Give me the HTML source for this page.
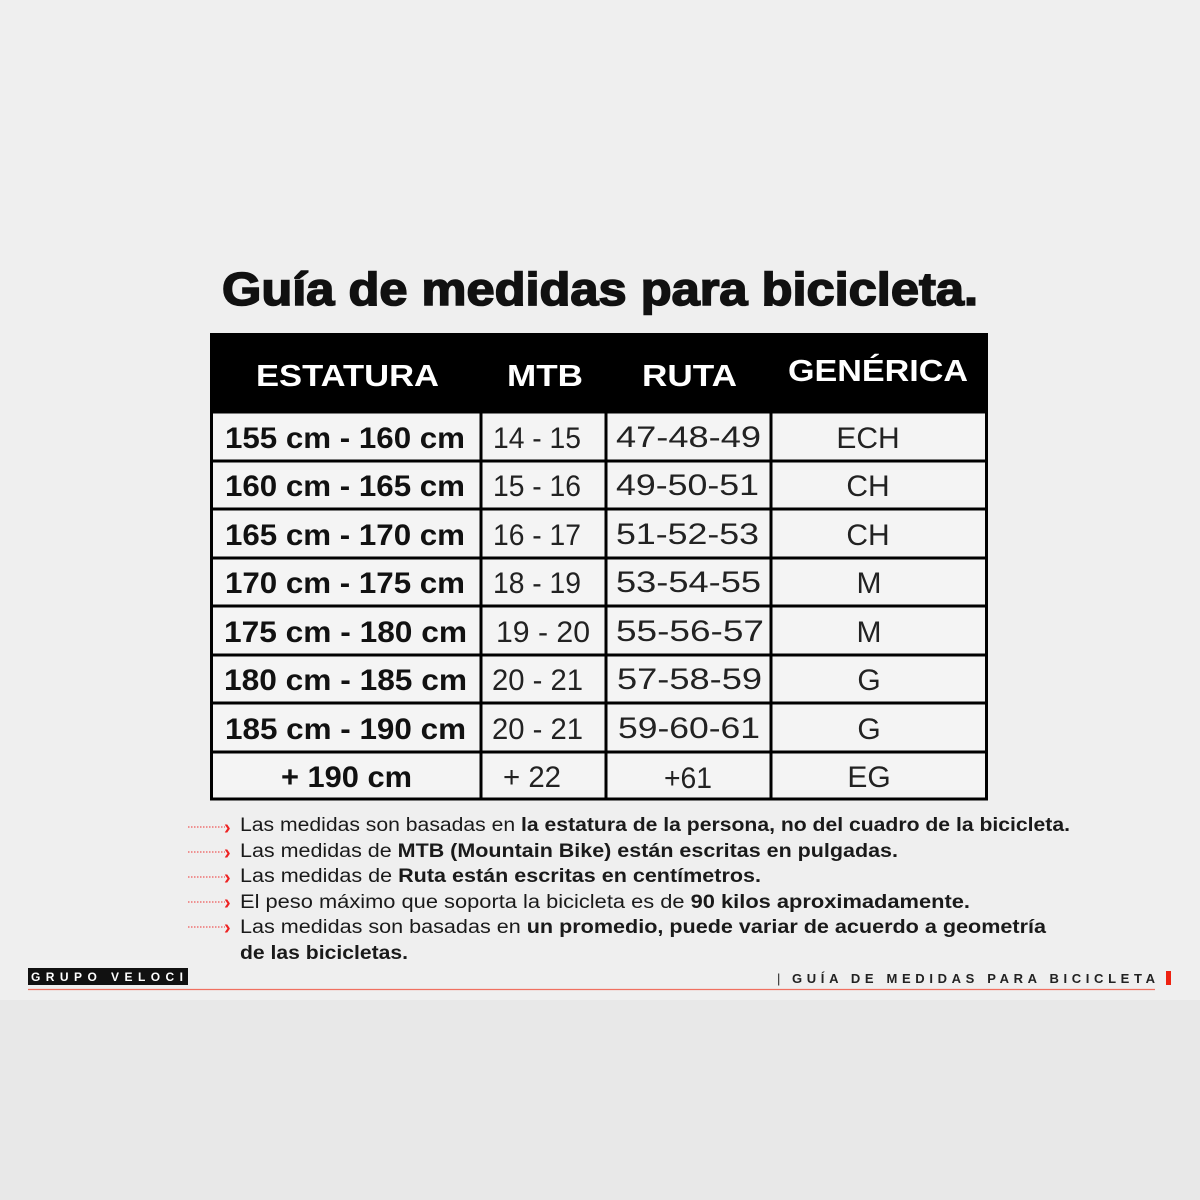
<!DOCTYPE html>
<html><head><meta charset="utf-8"><style>
html,body{margin:0;padding:0;background:#efefef;}
svg{display:block;font-family:"Liberation Sans",sans-serif;}
</style></head><body>
<svg width="1200" height="1200" viewBox="0 0 1200 1200">
<rect x="0" y="0" width="1200" height="1000" fill="#efefef"/>
<rect x="0" y="1000" width="1200" height="200" fill="#e8e8e8"/>
<text x="222" y="305" font-size="46" font-weight="bold" fill="#111" stroke="#111" stroke-width="1.6" textLength="756" lengthAdjust="spacingAndGlyphs">Guía de medidas para bicicleta.</text>
<!-- table -->
<rect x="210" y="333" width="778" height="79" fill="#000"/>
<rect x="211.5" y="412" width="775" height="387" fill="#f4f4f4" stroke="#000" stroke-width="3"/>
<g stroke="#000" stroke-width="3">
<line x1="481" y1="333" x2="481" y2="800"/>
<line x1="606" y1="412" x2="606" y2="800"/>
<line x1="771" y1="412" x2="771" y2="800"/>
<line x1="210" y1="461" x2="988" y2="461"/>
<line x1="210" y1="509" x2="988" y2="509"/>
<line x1="210" y1="558" x2="988" y2="558"/>
<line x1="210" y1="606" x2="988" y2="606"/>
<line x1="210" y1="655" x2="988" y2="655"/>
<line x1="210" y1="703" x2="988" y2="703"/>
<line x1="210" y1="752" x2="988" y2="752"/>
</g>
<g fill="#fff" font-size="31" font-weight="bold">
<text x="256" y="386" textLength="183" lengthAdjust="spacingAndGlyphs">ESTATURA</text>
<text x="507" y="386" textLength="76" lengthAdjust="spacingAndGlyphs">MTB</text>
<text x="642" y="386" textLength="95" lengthAdjust="spacingAndGlyphs">RUTA</text>
<text x="788" y="381" textLength="180" lengthAdjust="spacingAndGlyphs">GENÉRICA</text>
</g>
<g fill="#111" font-size="30" font-weight="bold">
<text x="225" y="448" textLength="240" lengthAdjust="spacingAndGlyphs">155 cm - 160 cm</text>
<text x="225" y="496" textLength="240" lengthAdjust="spacingAndGlyphs">160 cm - 165 cm</text>
<text x="225" y="545" textLength="240" lengthAdjust="spacingAndGlyphs">165 cm - 170 cm</text>
<text x="225" y="593" textLength="240" lengthAdjust="spacingAndGlyphs">170 cm - 175 cm</text>
<text x="224" y="642" textLength="243" lengthAdjust="spacingAndGlyphs">175 cm - 180 cm</text>
<text x="224" y="690" textLength="243" lengthAdjust="spacingAndGlyphs">180 cm - 185 cm</text>
<text x="225" y="739" textLength="241" lengthAdjust="spacingAndGlyphs">185 cm - 190 cm</text>
<text x="281" y="787" textLength="131" lengthAdjust="spacingAndGlyphs">+ 190 cm</text>
</g>
<g fill="#222" font-size="30">
<text x="493" y="448" textLength="88" lengthAdjust="spacingAndGlyphs">14 - 15</text>
<text x="493" y="496" textLength="88" lengthAdjust="spacingAndGlyphs">15 - 16</text>
<text x="493" y="545" textLength="88" lengthAdjust="spacingAndGlyphs">16 - 17</text>
<text x="493" y="593" textLength="88" lengthAdjust="spacingAndGlyphs">18 - 19</text>
<text x="496" y="642" textLength="94" lengthAdjust="spacingAndGlyphs">19 - 20</text>
<text x="492" y="690" textLength="91" lengthAdjust="spacingAndGlyphs">20 - 21</text>
<text x="492" y="739" textLength="91" lengthAdjust="spacingAndGlyphs">20 - 21</text>
<text x="503" y="787" textLength="58" lengthAdjust="spacingAndGlyphs">+ 22</text>
<text x="616" y="447" textLength="145" lengthAdjust="spacingAndGlyphs">47-48-49</text>
<text x="616" y="495" textLength="143" lengthAdjust="spacingAndGlyphs">49-50-51</text>
<text x="616" y="544" textLength="143" lengthAdjust="spacingAndGlyphs">51-52-53</text>
<text x="616" y="592" textLength="145" lengthAdjust="spacingAndGlyphs">53-54-55</text>
<text x="616" y="641" textLength="148" lengthAdjust="spacingAndGlyphs">55-56-57</text>
<text x="617" y="689" textLength="145" lengthAdjust="spacingAndGlyphs">57-58-59</text>
<text x="618" y="738" textLength="142" lengthAdjust="spacingAndGlyphs">59-60-61</text>
<text x="664" y="788" textLength="48" lengthAdjust="spacingAndGlyphs">+61</text>
</g>
<g fill="#222" font-size="30" text-anchor="middle">
<text x="868" y="448">ECH</text>
<text x="868" y="496">CH</text>
<text x="868" y="545">CH</text>
<text x="869" y="593">M</text>
<text x="869" y="642">M</text>
<text x="869" y="690">G</text>
<text x="869" y="739">G</text>
<text x="869" y="787">EG</text>
</g>
<!-- notes -->
<g stroke="#e33" stroke-width="1" stroke-dasharray="1.5 1.5" fill="none">
<line x1="188" y1="827" x2="225" y2="827"/>
<line x1="188" y1="852" x2="225" y2="852"/>
<line x1="188" y1="877" x2="225" y2="877"/>
<line x1="188" y1="902" x2="225" y2="902"/>
<line x1="188" y1="927" x2="225" y2="927"/>
</g>
<g fill="#e22" font-size="20" font-weight="bold">
<text x="224" y="834">›</text><text x="224" y="859">›</text><text x="224" y="884">›</text><text x="224" y="909">›</text><text x="224" y="934">›</text>
</g>
<g fill="#1a1a1a" font-size="19">
<text x="240" y="831" textLength="830" lengthAdjust="spacingAndGlyphs">Las medidas son basadas en <tspan font-weight="bold">la estatura de la persona, no del cuadro de la bicicleta.</tspan></text>
<text x="240" y="857" textLength="658" lengthAdjust="spacingAndGlyphs">Las medidas de <tspan font-weight="bold">MTB (Mountain Bike) están escritas en pulgadas.</tspan></text>
<text x="240" y="882" textLength="521" lengthAdjust="spacingAndGlyphs">Las medidas de <tspan font-weight="bold">Ruta están escritas en centímetros.</tspan></text>
<text x="240" y="908" textLength="730" lengthAdjust="spacingAndGlyphs">El peso máximo que soporta la bicicleta es de <tspan font-weight="bold">90 kilos aproximadamente.</tspan></text>
<text x="240" y="933" textLength="806" lengthAdjust="spacingAndGlyphs">Las medidas son basadas en <tspan font-weight="bold">un promedio, puede variar de acuerdo a geometría</tspan></text>
<text x="240" y="959" font-weight="bold" textLength="168" lengthAdjust="spacingAndGlyphs">de las bicicletas.</text>
</g>
<!-- footer -->
<rect x="28" y="968" width="160" height="17" fill="#111"/>
<text x="31" y="981" fill="#fff" font-size="12" font-weight="bold" textLength="152" lengthAdjust="spacing">GRUPO VELOCI</text>
<line x1="28" y1="989.5" x2="1155" y2="989.5" stroke="#f07060" stroke-width="1.2"/>
<text x="777" y="983" fill="#222" font-size="13" textLength="6">|</text>
<text x="792" y="983" fill="#222" font-size="13" font-weight="bold" textLength="363" lengthAdjust="spacing">GUÍA DE MEDIDAS PARA BICICLETA</text>
<rect x="1166" y="971" width="5" height="14" fill="#e21"/>
</svg>
</body></html>
